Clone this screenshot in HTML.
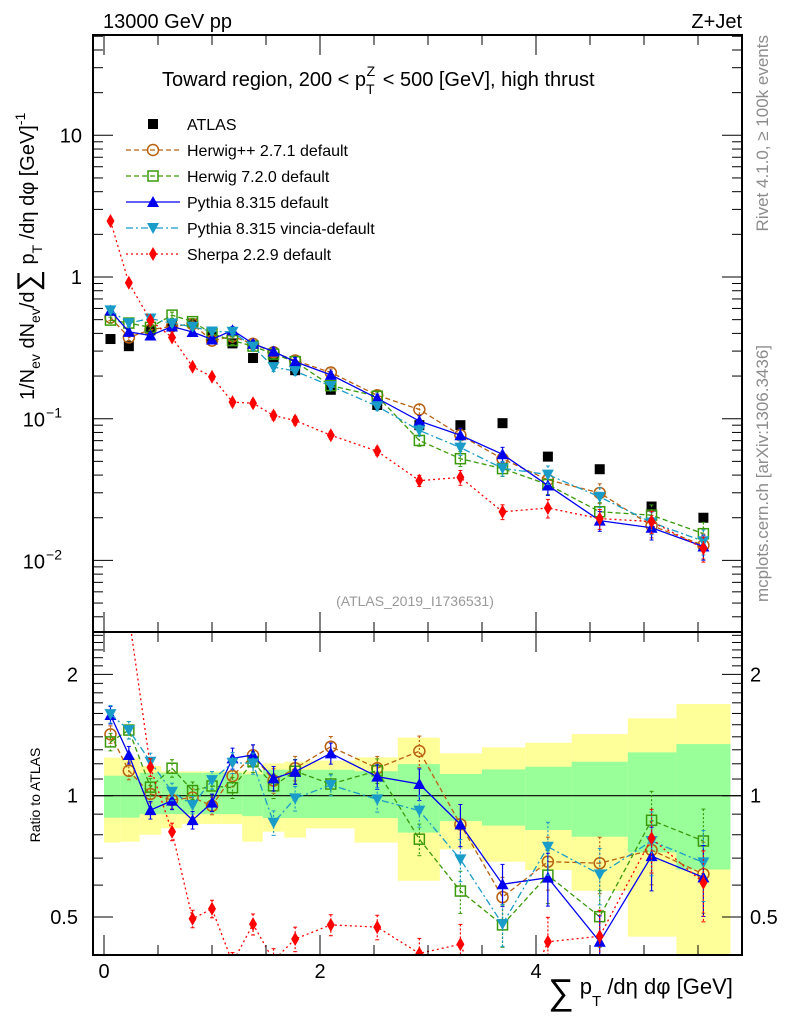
<!DOCTYPE html>
<html><head><meta charset="utf-8">
<style>
body{margin:0;background:#fff;}
svg{display:block;font-family:"Liberation Sans",sans-serif;}
</style></head>
<body>
<svg id="c" width="786" height="1024" viewBox="0 0 786 1024"></svg>
<script>
const binCenters=[0.06,0.23,0.43,0.63,0.82,1.0,1.19,1.38,1.57,1.77,2.1,2.53,2.92,3.3,3.69,4.11,4.59,5.07,5.55];
const binEdges=[0,0.15,0.33,0.53,0.72,0.91,1.09,1.28,1.47,1.67,1.87,2.32,2.72,3.11,3.5,3.9,4.33,4.85,5.3,5.8];
const atlasValues=[0.365,0.325,0.42,0.46,0.47,0.377,0.34,0.268,0.27,0.22,0.16,0.125,0.09,0.09,0.093,0.054,0.044,0.024,0.02];
const ratioHerwigPP=[1.42,1.153,1.01,0.976,0.99,0.944,1.119,1.26,1.09,1.17,1.323,1.17,1.29,0.849,0.56,0.686,0.68,0.733,0.639];
const ratioHerwig7=[1.36,1.455,1.05,1.17,1.03,1.057,1.047,1.214,1.058,1.15,1.069,1.153,0.78,0.58,0.478,0.635,0.501,0.869,0.772];
const ratioPythia=[1.586,1.262,0.921,0.972,0.87,0.961,1.238,1.262,1.104,1.147,1.274,1.115,1.069,0.849,0.603,0.626,0.434,0.708,0.627];
const ratioVincia=[1.594,1.455,1.214,1.023,0.948,1.093,1.207,1.203,0.857,0.985,1.063,0.979,0.918,0.695,0.48,0.747,0.638,0.772,0.683];
const ratioSherpa=[6.8,2.8,1.176,0.814,0.495,0.524,0.385,0.48,0.39,0.441,0.478,0.472,0.406,0.428,0.237,0.434,0.448,0.784,0.608];
const mcRelErr=[0.05,0.05,0.05,0.05,0.05,0.05,0.06,0.06,0.07,0.07,0.06,0.07,0.09,0.12,0.12,0.15,0.16,0.18,0.2];
const greenUp=[1.121,1.121,1.14,1.14,1.14,1.14,1.14,1.13,1.16,1.16,1.16,1.15,1.198,1.132,1.162,1.18,1.214,1.281,1.343];
const greenDn=[0.882,0.882,0.9,0.9,0.9,0.9,0.9,0.89,0.88,0.88,0.88,0.88,0.81,0.865,0.843,0.822,0.791,0.723,0.656];
const yellowUp=[1.243,1.243,1.185,1.149,1.149,1.149,1.149,1.149,1.203,1.214,1.222,1.245,1.393,1.274,1.318,1.353,1.422,1.556,1.688];
const yellowDn=[0.765,0.769,0.8,0.83,0.851,0.851,0.851,0.769,0.814,0.787,0.83,0.765,0.615,0.736,0.686,0.654,0.581,0.447,0.35];
const mainTickLabels=["10","1","10","10"];

const NS="http://www.w3.org/2000/svg";
const svg=document.getElementById('c');
const L=93,R=742,T=35,MB=632,RB=955;
function X(v){return 104+v*108;}
function YM(v){return 277-141.7*Math.log10(v);}
function YR(v){return 795.7-403*Math.log10(v);}
function el(tag,attrs,parent){const e=document.createElementNS(NS,tag);for(const k in attrs)e.setAttribute(k,attrs[k]);(parent||svg).appendChild(e);return e;}

const defs=el('defs',{});
const cm=el('clipPath',{id:'cm'},defs);el('rect',{x:L,y:T,width:R-L,height:MB-T},cm);
const cr=el('clipPath',{id:'cr'},defs);el('rect',{x:L,y:MB,width:R-L,height:RB-MB},cr);

const gBand=el('g',{'clip-path':'url(#cr)'});


for(let i=0;i<binCenters.length;i++){
  const x0=X(binEdges[i]),x1=X(binEdges[i+1]);
  const y=el('rect',{x:x0,y:YR(yellowUp[i]),width:x1-x0,height:YR(yellowDn[i])-YR(yellowUp[i]),fill:'#ffff99'},gBand);
  
  
}
for(let i=0;i<binCenters.length;i++){
  const x0=X(binEdges[i]),x1=X(binEdges[i+1]);
  const g=el('rect',{x:x0,y:YR(greenUp[i]),width:x1-x0,height:YR(greenDn[i])-YR(greenUp[i]),fill:'#99ff99'},gBand);
  
  
}
el('line',{x1:L,x2:R,y1:YR(1),y2:YR(1),stroke:'#000','stroke-width':1.2});

function marker(g,type,x,y,color){
  let m;
  if(type==='sq')m=el('rect',{x:x-5,y:y-5,width:10,height:10,fill:color},g);
  else if(type==='osq')m=el('rect',{x:x-5,y:y-5,width:10,height:10,fill:'none',stroke:color,'stroke-width':1.5},g);
  else if(type==='oc')m=el('circle',{cx:x,cy:y,r:5.5,fill:'none',stroke:color,'stroke-width':1.5},g);
  else if(type==='tu')m=el('polygon',{points:`${x},${y-6} ${x-6},${y+5} ${x+6},${y+5}`,fill:color},g);
  else if(type==='td')m=el('polygon',{points:`${x},${y+6} ${x-6},${y-5} ${x+6},${y-5}`,fill:color},g);
  else m=el('polygon',{points:`${x},${y-7} ${x-4},${y} ${x},${y+7} ${x+4},${y}`,fill:color},g);
  
  
}
const series=[
 {name:'herwigpp',r:ratioHerwigPP,c:'#b8600f',m:'oc',d:'5,3'},
 {name:'herwig7',r:ratioHerwig7,c:'#3a9a0a',m:'osq',d:'5,3'},
 {name:'pythia',r:ratioPythia,c:'#0000ee',m:'tu',d:''},
 {name:'vincia',r:ratioVincia,c:'#1a9cc8',m:'td',d:'7,3,2,3'},
 {name:'sherpa',r:ratioSherpa,c:'#ff0000',m:'di',d:'2,3'}
];
function drawSeries(s,panel){
  const clip=panel==='main'?'url(#cm)':'url(#cr)';
  const g=el('g',{'clip-path':clip});
  
  
  const Y=panel==='main'?YM:YR;
  const vals=s.r.map((r,i)=>panel==='main'?r*atlasValues[i]:r);
  const pts=vals.map((v,i)=>X(binCenters[i])+','+Y(v)).join(' ');
  el('polyline',{points:pts,fill:'none',stroke:s.c,'stroke-width':1.3,'stroke-dasharray':s.d},g);
  vals.forEach((v,i)=>{
    const x=X(binCenters[i]),e=mcRelErr[i];
    el('line',{x1:x,x2:x,y1:Y(v*(1+e)),y2:Y(v*(1-e)),stroke:s.c,'stroke-width':1.2,'stroke-dasharray':s.d?'2,2':''},g);
    el('line',{x1:x-2,x2:x+2,y1:Y(v*(1+e)),y2:Y(v*(1+e)),stroke:s.c},g);
    el('line',{x1:x-2,x2:x+2,y1:Y(v*(1-e)),y2:Y(v*(1-e)),stroke:s.c},g);
    marker(g,s.m,x,Y(v),s.c);
  });
}
const ga=el('g',{'clip-path':'url(#cm)'});


atlasValues.forEach((v,i)=>marker(ga,'sq',X(binCenters[i]),YM(v),'#000'));
series.forEach(s=>{drawSeries(s,'main');drawSeries(s,'ratio');});

el('rect',{x:L,y:T,width:R-L,height:MB-T,fill:'none',stroke:'#000','stroke-width':2});
el('rect',{x:L,y:MB,width:R-L,height:RB-MB,fill:'none',stroke:'#000','stroke-width':2});

for(let d=-3;d<=1;d++){for(let k=1;k<10;k++){const v=k*Math.pow(10,d);const y=YM(v);if(y<T||y>MB)continue;const len=k===1?20:10;
 el('line',{x1:L,x2:L+len,y1:y,y2:y,stroke:'#000'});el('line',{x1:R,x2:R-len,y1:y,y2:y,stroke:'#000'});}}
function txt(s,attrs,name){const t=el('text',attrs);t.textContent=s;return t;}
txt(mainTickLabels[0],{x:82,y:YM(10)+7,'font-size':20,'text-anchor':'end'},'y-tick-10');
txt(mainTickLabels[1],{x:82,y:YM(1)+7,'font-size':20,'text-anchor':'end'},'y-tick-1');
const t1=txt(mainTickLabels[2],{x:62,y:YM(0.1)+8,'font-size':20,'text-anchor':'end'},'y-tick-0.1');
const t1s=el('tspan',{dx:1,dy:-9,'font-size':14},t1);t1s.textContent='−1';
const t2=txt(mainTickLabels[3],{x:62,y:YM(0.01)+8,'font-size':20,'text-anchor':'end'},'y-tick-0.01');
const t2s=el('tspan',{dx:1,dy:-9,'font-size':14},t2);t2s.textContent='−2';

[0.5,0.6,0.7,0.8,0.9,1,1.1,1.2,1.3,1.4,1.5,1.6,1.7,1.8,1.9,2,2.1,2.2,2.3,2.4,2.5].forEach(v=>{const y=YR(v);if(y<MB||y>RB)return;const len=(v===0.5||v===1||v===2)?20:10;
 el('line',{x1:L,x2:L+len,y1:y,y2:y,stroke:'#000'});el('line',{x1:R,x2:R-len,y1:y,y2:y,stroke:'#000'});});
[['2',2],['1',1],['0.5',0.5]].forEach(([s,v])=>{txt(s,{x:78,y:YR(v)+7,'font-size':20,'text-anchor':'end'},'ratio-tick-left');txt(s,{x:750,y:YR(v)+7,'font-size':20},'ratio-tick-right');});

for(let k=0;k<=11;k++){const v=k*0.5;const x=X(v);const len=k%4===0?20:10;
 el('line',{x1:x,x2:x,y1:RB,y2:RB-len,stroke:'#000'});el('line',{x1:x,x2:x,y1:MB,y2:MB-len,stroke:'#000'});
 el('line',{x1:x,x2:x,y1:MB,y2:MB+len,stroke:'#000'});el('line',{x1:x,x2:x,y1:T,y2:T+len,stroke:'#000'});}
[0,2,4].forEach(v=>txt(String(v),{x:X(v),y:978,'font-size':20,'text-anchor':'middle'},'x-tick-label'));

txt('13000 GeV pp',{x:103,y:28,'font-size':20},'energy-label');
txt('Z+Jet',{x:742,y:28,'font-size':20,'text-anchor':'end'},'process-label');
const ti=txt('Toward region, 200 < p',{x:162,y:86,'font-size':20},'plot-title');
let ts=el('tspan',{dy:8,'font-size':14},ti);ts.textContent='T';
ts=el('tspan',{dx:-8,dy:-18,'font-size':14},ti);ts.textContent='Z';
ts=el('tspan',{dx:2,dy:10},ti);ts.textContent=' < 500 [GeV], high thrust';
txt('(ATLAS_2019_I1736531)',{x:415,y:606,'font-size':14,fill:'#999','text-anchor':'middle'},'analysis-id');
txt('Rivet 4.1.0, ≥ 100k events',{x:0,y:0,'font-size':17,fill:'#8c8c8c','text-anchor':'end',transform:'translate(768,35) rotate(-90)'},'rivet-label');
txt('mcplots.cern.ch [arXiv:1306.3436]',{x:0,y:0,'font-size':17,fill:'#8c8c8c','text-anchor':'end',transform:'translate(768,345) rotate(-90)'},'mcplots-label');
txt('Ratio to ATLAS',{x:0,y:0,'font-size':14,'text-anchor':'middle',transform:'translate(40,795) rotate(-90)'},'ratio-axis-title');
const ya=txt('1/N',{x:0,y:0,'font-size':20,transform:'translate(34,400) rotate(-90)'},'y-axis-title');
let y1=el('tspan',{dy:6,'font-size':14},ya);y1.textContent='ev';
y1=el('tspan',{dy:-6},ya);y1.textContent=' dN';
y1=el('tspan',{dy:6,'font-size':14},ya);y1.textContent='ev';
y1=el('tspan',{dy:-6},ya);y1.textContent='/d';
y1=el('tspan',{'font-size':30,dy:4},ya);y1.textContent='∑';
y1=el('tspan',{dy:-4},ya);y1.textContent=' p';
y1=el('tspan',{dy:8,'font-size':14},ya);y1.textContent='T';
y1=el('tspan',{dy:-8},ya);y1.textContent=' /dη dφ  [GeV]';
y1=el('tspan',{dy:-9,'font-size':14},ya);y1.textContent='-1';
const xa=txt('∑',{x:548,y:1004,'font-size':36},'x-axis-title');
let x1=el('tspan',{dy:-10,'font-size':22},xa);x1.textContent=' p';
x1=el('tspan',{dy:12,'font-size':15},xa);x1.textContent='T';
x1=el('tspan',{dy:-12,'font-size':22},xa);x1.textContent=' /dη dφ [GeV]';

const lg=el('g',{});


const legNames=['ATLAS','Herwig++ 2.7.1 default','Herwig 7.2.0 default','Pythia 8.315 default','Pythia 8.315 vincia-default','Sherpa 2.2.9 default'];
legNames.forEach((n,i)=>{const y=124+i*26;
  const e=el('g',{},lg);
  
  
  if(i===0)marker(e,'sq',153,y,'#000');
  else{const s=series[i-1];el('line',{x1:126,x2:180,y1:y,y2:y,stroke:s.c,'stroke-width':1.3,'stroke-dasharray':s.d},e);marker(e,s.m,153,y,s.c);}
  const t=el('text',{x:187,y:y+6,'font-size':16},e);t.textContent=n;
});
</script>
</body></html>
